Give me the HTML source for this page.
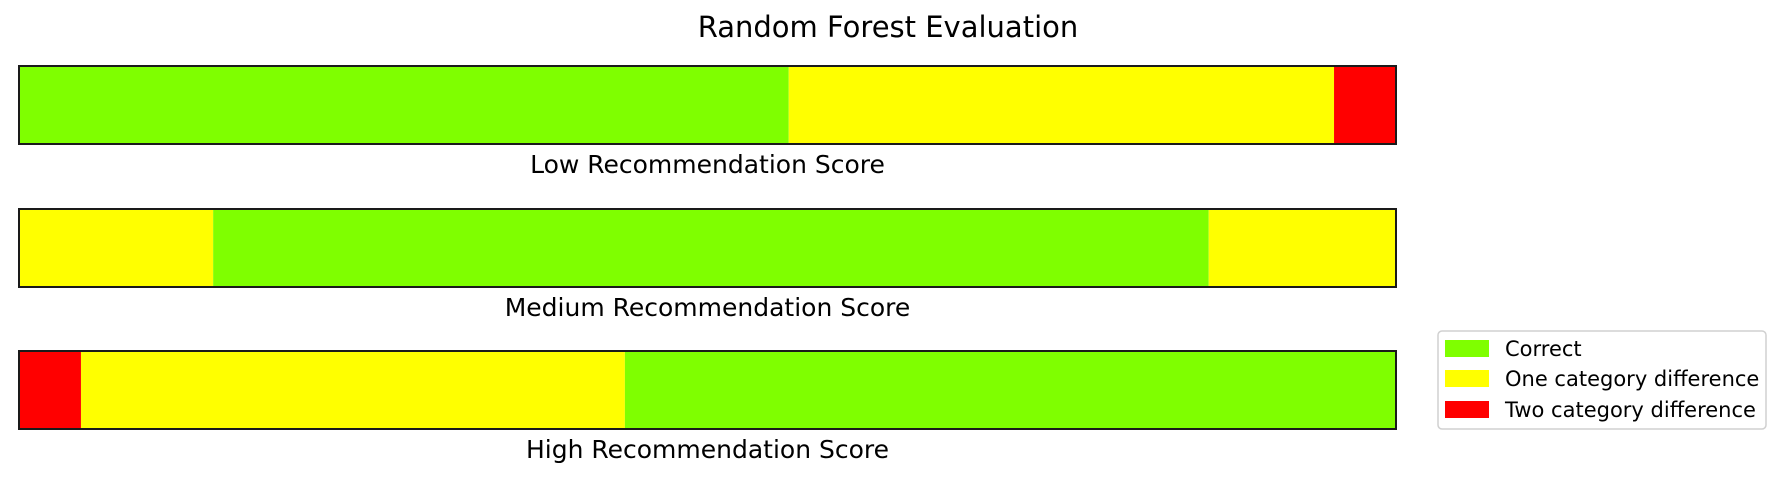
<!DOCTYPE html>
<html><head><meta charset="utf-8"><style>
html,body{margin:0;padding:0;background:#fff;}
svg text{font-family:"DejaVu Sans","Liberation Sans",sans-serif;fill:#000;}
</style></head><body>
<svg id="chart" width="1780" height="476" xmlns="http://www.w3.org/2000/svg">
<text x="888" y="37" font-size="29" text-anchor="middle">Random Forest Evaluation</text>
<g id="bars"></g>
<g>
<rect x="1438" y="331" width="328" height="98" rx="4" fill="#fff" stroke="#d0d0d0" stroke-width="1.5"/>
<g><rect x="1445" y="340" width="44" height="17" fill="#7fff00"/><text x="1505" y="356" font-size="21">Correct</text></g>
<g><rect x="1445" y="370" width="44" height="17" fill="#ffff00"/><text x="1505" y="386" font-size="21">One category difference</text></g>
<g><rect x="1445" y="401" width="44" height="17" fill="#ff0000"/><text x="1505" y="417" font-size="21">Two category difference</text></g>
</g>
</svg>
<script>
const rowLabels = ["Low Recommendation Score","Medium Recommendation Score","High Recommendation Score"];
const rowSegValues = [[0.559,0.396,0.045],[0.141,0.723,0.136],[0.045,0.395,0.560]];
const rowSegKinds = [["correct","one","two"],["one","correct","one"],["two","one","correct"]];
const colors = {correct:"#7fff00", one:"#ffff00", two:"#ff0000"};
const ns="http://www.w3.org/2000/svg";
const g=document.getElementById('bars');
const x0=19, x1=1396, tops=[66,209,351], h=78;
function xs(v){return x0+v*(x1-x0);}
rowLabels.forEach((lab,i)=>{
  const total=rowSegValues[i].reduce((a,b)=>a+b,0);
  let acc=0;
  rowSegValues[i].forEach((v,j)=>{
    const r=document.createElementNS(ns,'rect');
    r.setAttribute('x',xs(acc/total));
    r.setAttribute('width',xs((acc+v)/total)-xs(acc/total));
    r.setAttribute('y',tops[i]);r.setAttribute('height',h);
    r.setAttribute('fill',colors[rowSegKinds[i][j]]);
    
    
    g.appendChild(r);acc+=v;
  });
  const b=document.createElementNS(ns,'rect');
  b.setAttribute('x',x0);b.setAttribute('y',tops[i]);b.setAttribute('width',x1-x0);b.setAttribute('height',h);
  b.setAttribute('fill','none');b.setAttribute('stroke','#1a1a1a');b.setAttribute('stroke-width','2');
  
  
  g.appendChild(b);
  const t=document.createElementNS(ns,'text');
  t.setAttribute('x',(x0+x1)/2);t.setAttribute('y',tops[i]+h+29);
  t.setAttribute('font-size','25');t.setAttribute('text-anchor','middle');
  t.textContent=lab;
  
  
  g.appendChild(t);
});
</script>
</body></html>
